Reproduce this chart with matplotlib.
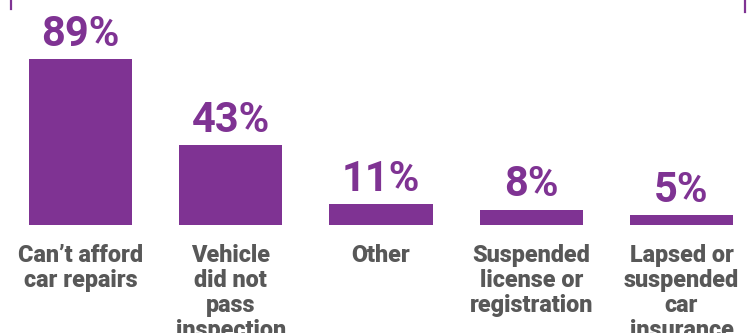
import matplotlib
matplotlib.use('Agg')
import matplotlib.pyplot as plt
from matplotlib.lines import Line2D

# reasons and share of respondents
categories = ["Can\u2019t afford\ncar repairs", "Vehicle\ndid not\npass\ninspection", "Other",
              "Suspended\nlicense or\nregistration", "Lapsed or\nsuspended\ncar\ninsurance"]
values = [89, 43, 11, 8, 5]

purple = '#7F3393'
grey = '#585858'
plt.rcParams['font.family'] = ['Roboto', 'DejaVu Sans']

fig = plt.figure(figsize=(7.55, 3.33), dpi=100)
# axes: bars' baseline sits at 224px from top
ax = fig.add_axes([0, 108.5 / 333, 1, 224.5 / 333])

x = list(range(len(values)))
ax.bar(x, values, width=0.687, color=purple)
ax.set_xlim(-0.536, 4.489)
ax.set_ylim(0, 121)

# percent labels above each bar
for a, b in zip(x, values):
    ax.annotate(f'{b}%', (a, b), xytext=(0, 3), textcoords='offset points',
                ha='center', va='bottom', fontsize=30, fontweight='bold', color=purple)

# category labels under the bars
ax.set_xticks(x)
ax.set_xticklabels(categories, fontsize=16.8, fontweight='heavy', color=grey,
                   linespacing=1.12, va='top', multialignment='center')
ax.tick_params(axis='x', length=0, pad=14)
ax.set_yticks([])
for s in ax.spines.values():
    s.set_visible(False)

# small decorative frame ticks at the top
fig.add_artist(Line2D([10.7 / 755, 10.7 / 755], [1, 1 - 9 / 333], color=purple, lw=1.6))
fig.add_artist(Line2D([745.3 / 755, 745.3 / 755], [1, 1 - 12 / 333], color=purple, lw=1.6))

fig.savefig('out.png', dpi=100)
